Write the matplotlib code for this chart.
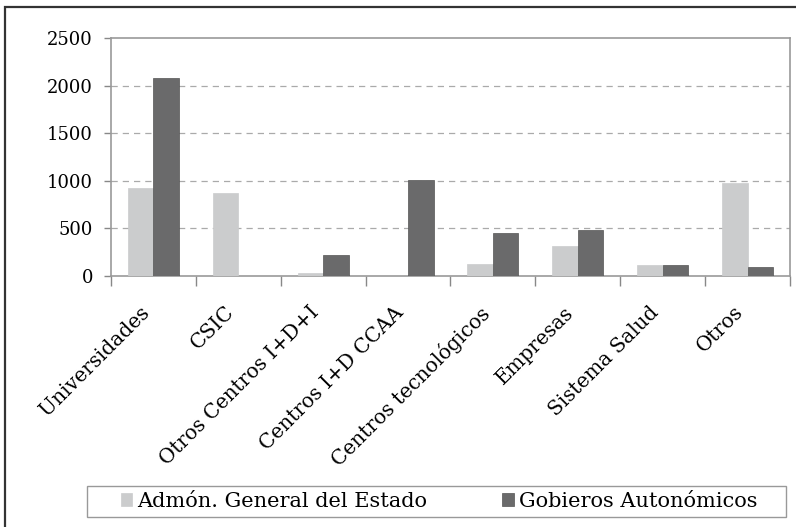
import matplotlib
matplotlib.use("Agg")
import matplotlib.pyplot as plt
import numpy as np
from matplotlib.patches import Rectangle
from matplotlib.transforms import ScaledTranslation

categories = ["Universidades", "CSIC", "Otros Centros I+D+I", "Centros I+D CCAA",
              "Centros tecnológicos", "Empresas", "Sistema Salud", "Otros"]
admon = [920, 870, 30, 0, 125, 315, 115, 980]
gobiernos = [2080, 0, 220, 1010, 455, 485, 118, 95]
series_names = ["Admón. General del Estado", "Gobieros Autonómicos"]
yticks = [0, 500, 1000, 1500, 2000, 2500]

plt.rcParams['font.family'] = ['DejaVu Serif']

W, H = 796, 527
fig = plt.figure(figsize=(W / 100, H / 100), dpi=100)
ax = fig.add_axes([111 / W, 1 - 276 / H, (790 - 111) / W, (276 - 38) / H])

x = np.arange(len(categories))
bw = 0.3
light = "#cbcccd"
dark = "#6a6a6b"
b1 = ax.bar(x - bw / 2, admon, bw, color=light, edgecolor=light, linewidth=0.5, label=series_names[0], zorder=3)
b2 = ax.bar(x + bw / 2, gobiernos, bw, color=dark, edgecolor="#555555", linewidth=0.5, label=series_names[1], zorder=3)

ax.set_xlim(-0.5, len(categories) - 0.5)
ax.set_ylim(0, 2500)
ax.set_yticks(yticks)
ax.set_yticklabels([str(v) for v in yticks], fontsize=13)
ax.set_xticks(np.arange(len(categories) + 1) - 0.5)
ax.set_xticklabels([])
ax.set_xticks(x, minor=True)
ax.set_xticklabels(categories, minor=True, rotation=45, ha='right', rotation_mode='anchor', fontsize=14.5)
ax.tick_params(axis='x', which='minor', length=0, pad=12)
ax.tick_params(axis='x', which='major', length=7, color="#888888", width=1)
ax.tick_params(axis='y', length=5, color="#888888", width=1, pad=8)

off = ScaledTranslation(-14 / 100, -10 / 100, fig.dpi_scale_trans)
for lab in ax.get_xticklabels(minor=True):
    lab.set_transform(lab.get_transform() + off)

for s in ax.spines.values():
    s.set_color("#999999")
    s.set_linewidth(1.2)

for v in yticks[1:-1]:
    ax.axhline(v, color="#aaaaaa", linestyle=(0, (5, 4)), linewidth=0.9, zorder=1)

leg = fig.legend(handles=[b1, b2], labels=series_names, loc='center',
                 bbox_to_anchor=(439 / W, 1 - 501.5 / H), ncol=2, fontsize=15,
                 frameon=False, handlelength=0.55, handleheight=0.55, handletextpad=0.25,
                 borderpad=0.2, columnspacing=3.6)

fig.add_artist(Rectangle((87 / W, 1 - 517 / H), (786 - 87) / W, (517 - 486) / H, transform=fig.transFigure,
                         fill=False, edgecolor="#999999", linewidth=1.0))

fig.add_artist(Rectangle((5 / W, -0.05), 1.1, 1 - 7 / H + 0.05, transform=fig.transFigure,
                         fill=False, edgecolor="#333333", linewidth=1.6))

fig.savefig("out.png", dpi=100)
